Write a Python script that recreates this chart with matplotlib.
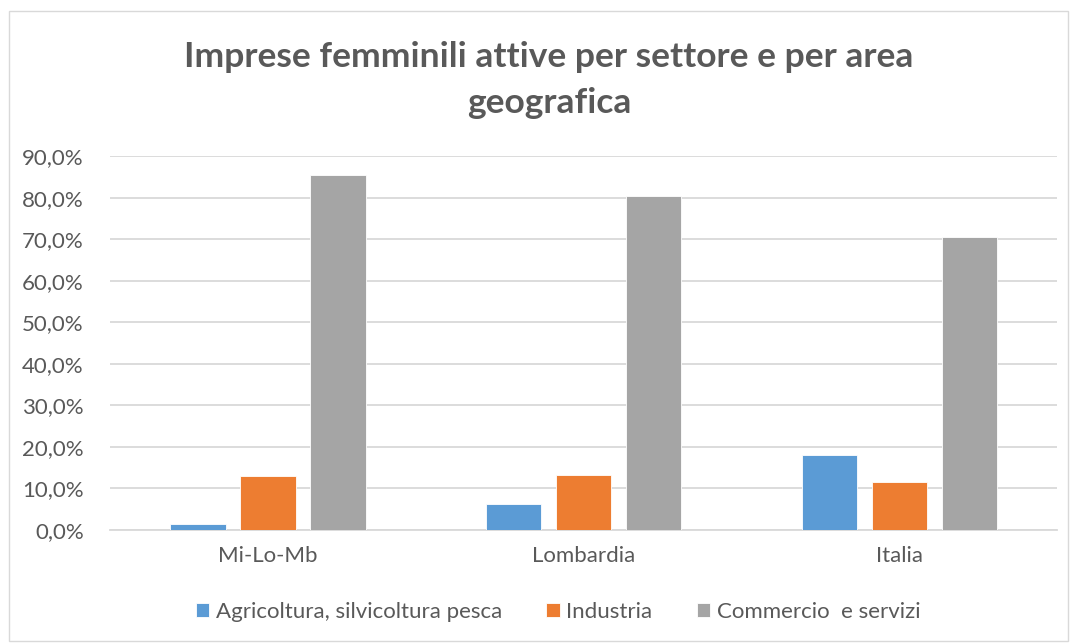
import matplotlib.pyplot as plt
import numpy as np
from matplotlib.patches import Rectangle
from matplotlib.ticker import FuncFormatter

plt.rcParams['font.family'] = ['Lato', 'DejaVu Sans']

# Data
aree = ['Mi-Lo-Mb', 'Lombardia', 'Italia']
agricoltura = [1.5, 6.2, 18.0]
industria = [13.0, 13.3, 11.5]
commercio = [85.4, 80.5, 70.5]

serie = [
    ('Agricoltura, silvicoltura pesca', agricoltura, '#5b9bd5'),
    ('Industria', industria, '#ed7d31'),
    ('Commercio  e servizi', commercio, '#a5a5a5'),
]

fig = plt.figure(figsize=(10.70, 6.43), dpi=100)
ax = fig.add_axes([0.103, 0.176, 0.885, 0.581])

# Outer chart border
fig.patches.append(Rectangle((0.008, 0.003), 0.99, 0.98, transform=fig.transFigure,
                             fill=False, edgecolor='#d9d9d9', linewidth=1))

x = np.arange(len(aree))
w = 0.175
step = 0.222
for i, (nome, vals, col) in enumerate(serie):
    ax.bar(x + (i - 1) * step, vals, width=w, color=col, label=nome,
           edgecolor='white', linewidth=0.6, zorder=3)

ax.set_xlim(-0.5, 2.5)
ax.set_ylim(0, 90)
ax.set_yticks(np.arange(0, 91, 10))
ax.yaxis.set_major_formatter(FuncFormatter(lambda v, p: f'{v:.1f}%'.replace('.', ',')))
ax.set_xticks(x)
ax.set_xticklabels(aree)
ax.grid(axis='y', color='#d9d9d9', linewidth=1.3, zorder=0)
for s in ['top', 'right', 'left']:
    ax.spines[s].set_visible(False)
ax.spines['bottom'].set_color('#d9d9d9')
ax.spines['bottom'].set_linewidth(1.3)
ax.tick_params(axis='both', length=0, labelsize=16, labelcolor='#595959')
ax.tick_params(axis='x', pad=12)
ax.tick_params(axis='y', pad=19)

fig.text(0.513, 0.876, 'Imprese femminili attive per settore e per area\ngeografica',
         ha='center', va='center', fontsize=25.5, fontweight='bold', color='#595959',
         linespacing=1.55)

ax.legend(loc='center', bbox_to_anchor=(0.473, -0.22), ncol=3, frameon=False,
          fontsize=16, labelcolor='#595959', handlelength=0.6, handleheight=0.6,
          handletextpad=0.3, columnspacing=2.0)

fig.savefig('out.png', dpi=100)
